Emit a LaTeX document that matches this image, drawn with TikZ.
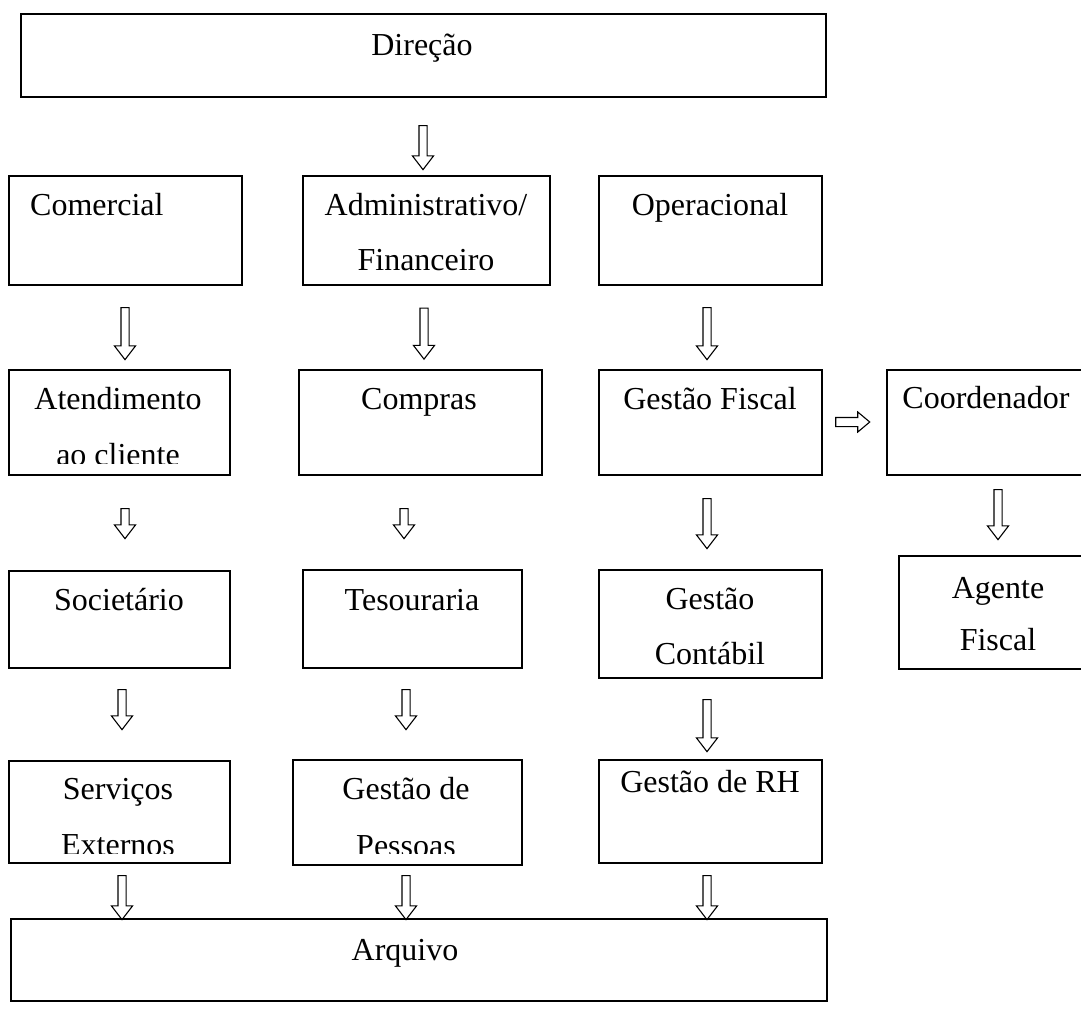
\documentclass[tikz,border=0pt]{standalone}
\usepackage{fontspec}
\setmainfont{Liberation Serif}
\usetikzlibrary{shapes.arrows}
\tikzset{
  box/.style={draw, line width=1.5pt, anchor=north west, inner sep=0pt},
  lbl/.style={font=\fontsize{32}{38}\selectfont, anchor=base, inner sep=0pt},
  downarr/.style={single arrow, draw, line width=1.1pt, rotate=-90, inner sep=3.5pt, minimum width=0pt, single arrow head extend=6.5pt, single arrow tip angle=75},
  rightarr/.style={single arrow, draw, line width=1.1pt, inner sep=4pt, minimum width=0pt, single arrow head extend=5.5pt, single arrow tip angle=80}
}
\begin{document}
\begin{tikzpicture}[x=1pt,y=-1pt]
\clip (0,0) rectangle (1081,1028);
\fill[white] (0,0) rectangle (1081,1028);
\node[box, minimum width=805pt, minimum height=83pt] (dir) at (20,13) {};
\node[lbl] (dir-t) at (422,55) {Direção};
\node[box, minimum width=233pt, minimum height=109pt] (com) at (8,175) {};
\node[lbl, anchor=base west] (com-t) at (30,215) {Comercial};
\node[box, minimum width=247pt, minimum height=109pt] (adm) at (302,175) {};
\node[lbl] (adm-t1) at (426,215) {Administrativo/};
\node[lbl] (adm-t2) at (426,270) {Financeiro};
\node[box, minimum width=223pt, minimum height=109pt] (ope) at (598,175) {};
\node[lbl] (ope-t) at (710,215) {Operacional};
\node[box, minimum width=221pt, minimum height=105pt] (aten) at (8,369) {};
\node[lbl] (aten-t1) at (118,409) {Atendimento};
\begin{scope}
\clip (aten.north west) rectangle ([yshift=12pt]aten.south east);
\node[lbl] (aten-t2) at (118,465) {ao cliente};
\end{scope}
\node[box, minimum width=243pt, minimum height=105pt] (comp) at (298,369) {};
\node[lbl] (comp-t) at (419,409) {Compras};
\node[box, minimum width=223pt, minimum height=105pt] (gfis) at (598,369) {};
\node[lbl] (gfis-t) at (710,409) {Gestão Fiscal};
\node[box, minimum width=220pt, minimum height=105pt] (coord) at (886,369) {};
\node[lbl] (coord-t) at (986,408) {Coordenador};
\node[box, minimum width=221pt, minimum height=97pt] (soc) at (8,570) {};
\node[lbl] (soc-t) at (119,610) {Societário};
\node[box, minimum width=219pt, minimum height=98pt] (tes) at (302,569) {};
\node[lbl] (tes-t) at (412,610) {Tesouraria};
\node[box, minimum width=223pt, minimum height=108pt] (gcont) at (598,569) {};
\node[lbl] (gcont-t1) at (710,609) {Gestão};
\node[lbl] (gcont-t2) at (710,664) {Contábil};
\node[box, minimum width=210pt, minimum height=113pt] (agen) at (898,555) {};
\node[lbl] (agen-t1) at (998,598) {Agente};
\node[lbl] (agen-t2) at (998,650) {Fiscal};
\node[box, minimum width=221pt, minimum height=102pt] (serv) at (8,760) {};
\node[lbl] (serv-t1) at (118,799) {Serviços};
\begin{scope}
\clip (serv.north west) rectangle ([yshift=10pt]serv.south east);
\node[lbl] (serv-t2) at (118,855) {Externos};
\end{scope}
\node[box, minimum width=229pt, minimum height=105pt] (pess) at (292,759) {};
\node[lbl] (pess-t1) at (406,799) {Gestão de};
\begin{scope}
\clip (pess.north west) rectangle ([yshift=12pt]pess.south east);
\node[lbl] (pess-t2) at (406,856) {Pessoas};
\end{scope}
\node[box, minimum width=223pt, minimum height=103pt] (grh) at (598,759) {};
\node[lbl] (grh-t) at (710,792) {Gestão de RH};
\node[box, minimum width=816pt, minimum height=82pt] (arq) at (10,918) {};
\node[lbl] (arq-t) at (405,960) {Arquivo};
\node[downarr, minimum height=44pt] (dir-adm) at (423,145) {};
\node[downarr, minimum height=52pt] (com-aten) at (125,331) {};
\node[downarr, minimum height=51pt] (adm-comp) at (424,331) {};
\node[downarr, minimum height=52pt] (ope-gfis) at (707,331) {};
\node[downarr, minimum height=30pt] (aten-soc) at (125,521) {};
\node[downarr, minimum height=30pt] (comp-tes) at (404,521) {};
\node[downarr, minimum height=50pt] (gfis-gcont) at (707,521) {};
\node[rightarr, minimum height=34pt] (gfis-coord) at (850,422) {};
\node[downarr, minimum height=50pt] (coord-agen) at (998,512) {};
\node[downarr, minimum height=40pt] (soc-serv) at (122,707) {};
\node[downarr, minimum height=40pt] (tes-pess) at (406,707) {};
\node[downarr, minimum height=52pt] (gcont-grh) at (707,723) {};
\node[downarr, minimum height=44pt] (serv-arq) at (122,895) {};
\node[downarr, minimum height=44pt] (pess-arq) at (406,895) {};
\node[downarr, minimum height=44pt] (grh-arq) at (707,895) {};
\end{tikzpicture}
\end{document}
